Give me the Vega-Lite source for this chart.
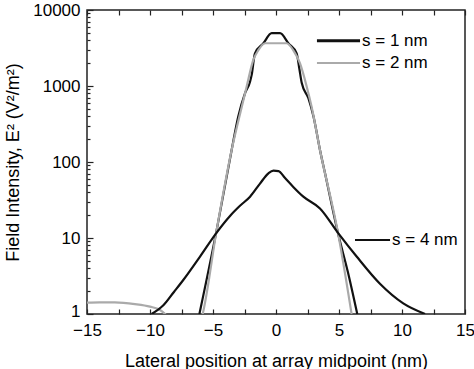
{
  "$schema": "https://vega.github.io/schema/vega-lite/v6.json",
  "width": 378,
  "height": 304,
  "autosize": {"type": "none"},
  "padding": {"left": 87, "top": 10, "right": 9, "bottom": 55},
  "background": "white",
  "config": {
    "view": {"stroke": "#222222", "strokeWidth": 1.5},
    "font": "Liberation Sans",
    "axis": {
      "domain": false,
      "grid": false,
      "tickColor": "#222222",
      "tickWidth": 1.2,
      "labelColor": "#000000",
      "titleColor": "#000000",
      "labelFont": "Liberation Sans",
      "titleFont": "Liberation Sans",
      "labelFontSize": 17,
      "titleFontSize": 18,
      "titleFontWeight": "normal"
    }
  },
  "datasets": {
    "curves": [
      {"series": "s = 1 nm", "x": -6.08, "y": 1},
      {"series": "s = 1 nm", "x": -4.71, "y": 12.7},
      {"series": "s = 1 nm", "x": -3.52, "y": 144},
      {"series": "s = 1 nm", "x": -3.0, "y": 395},
      {"series": "s = 1 nm", "x": -2.46, "y": 800},
      {"series": "s = 1 nm", "x": -2.06, "y": 1140},
      {"series": "s = 1 nm", "x": -1.93, "y": 1400},
      {"series": "s = 1 nm", "x": -1.67, "y": 2690},
      {"series": "s = 1 nm", "x": -1.0, "y": 3650},
      {"series": "s = 1 nm", "x": -0.34, "y": 4950},
      {"series": "s = 1 nm", "x": 0.32, "y": 4950},
      {"series": "s = 1 nm", "x": 0.98, "y": 3650},
      {"series": "s = 1 nm", "x": 1.64, "y": 2690},
      {"series": "s = 1 nm", "x": 1.85, "y": 1700},
      {"series": "s = 1 nm", "x": 2.04, "y": 1100},
      {"series": "s = 1 nm", "x": 2.57, "y": 690},
      {"series": "s = 1 nm", "x": 2.98, "y": 395},
      {"series": "s = 1 nm", "x": 3.49, "y": 144},
      {"series": "s = 1 nm", "x": 3.9, "y": 70},
      {"series": "s = 1 nm", "x": 4.95, "y": 11},
      {"series": "s = 1 nm", "x": 5.7, "y": 3.6},
      {"series": "s = 1 nm", "x": 6.45, "y": 1},

      {"series": "s = 2 nm", "x": -15, "y": 1.41},
      {"series": "s = 2 nm", "x": -14, "y": 1.42},
      {"series": "s = 2 nm", "x": -12.8, "y": 1.42},
      {"series": "s = 2 nm", "x": -11.2, "y": 1.35},
      {"series": "s = 2 nm", "x": -10, "y": 1.25},
      {"series": "s = 2 nm", "x": -9.2, "y": 1.13},
      {"series": "s = 2 nm", "x": -8.8, "y": 1.0},
      {"series": "s = 2 nm", "x": -7.6, "y": 0.5},
      {"series": "s = 2 nm", "x": -6.5, "y": 0.5},
      {"series": "s = 2 nm", "x": -5.82, "y": 1},
      {"series": "s = 2 nm", "x": -4.71, "y": 12.7},
      {"series": "s = 2 nm", "x": -3.52, "y": 144},
      {"series": "s = 2 nm", "x": -2.72, "y": 530},
      {"series": "s = 2 nm", "x": -2.33, "y": 980},
      {"series": "s = 2 nm", "x": -1.8, "y": 2200},
      {"series": "s = 2 nm", "x": -1.4, "y": 2960},
      {"series": "s = 2 nm", "x": -0.87, "y": 3650},
      {"series": "s = 2 nm", "x": 0, "y": 3650},
      {"series": "s = 2 nm", "x": 0.85, "y": 3650},
      {"series": "s = 2 nm", "x": 1.4, "y": 2900},
      {"series": "s = 2 nm", "x": 1.9, "y": 2000},
      {"series": "s = 2 nm", "x": 2.44, "y": 980},
      {"series": "s = 2 nm", "x": 2.83, "y": 530},
      {"series": "s = 2 nm", "x": 3.49, "y": 144},
      {"series": "s = 2 nm", "x": 4.95, "y": 11},
      {"series": "s = 2 nm", "x": 6.0, "y": 1},

      {"series": "s = 4 nm", "x": -9.87, "y": 1.0},
      {"series": "s = 4 nm", "x": -8.94, "y": 1.3},
      {"series": "s = 4 nm", "x": -8.1, "y": 1.95},
      {"series": "s = 4 nm", "x": -7.36, "y": 2.8},
      {"series": "s = 4 nm", "x": -6.03, "y": 5.7},
      {"series": "s = 4 nm", "x": -4.71, "y": 11.8},
      {"series": "s = 4 nm", "x": -3.65, "y": 19.5},
      {"series": "s = 4 nm", "x": -2.86, "y": 26.5},
      {"series": "s = 4 nm", "x": -2.06, "y": 35},
      {"series": "s = 4 nm", "x": -1.27, "y": 52},
      {"series": "s = 4 nm", "x": -0.6, "y": 71},
      {"series": "s = 4 nm", "x": -0.2, "y": 77},
      {"series": "s = 4 nm", "x": 0.2, "y": 76},
      {"series": "s = 4 nm", "x": 0.7, "y": 62},
      {"series": "s = 4 nm", "x": 1.37, "y": 47},
      {"series": "s = 4 nm", "x": 2.17, "y": 35},
      {"series": "s = 4 nm", "x": 3.49, "y": 24.5},
      {"series": "s = 4 nm", "x": 4.95, "y": 11.5},
      {"series": "s = 4 nm", "x": 6.4, "y": 5.7},
      {"series": "s = 4 nm", "x": 8.25, "y": 2.5},
      {"series": "s = 4 nm", "x": 10.1, "y": 1.38},
      {"series": "s = 4 nm", "x": 11.83, "y": 1.0}
    ],
    "labels": [
      {"series": "s = 1 nm", "x": 3.25, "x2": 6.67, "y": 3950},
      {"series": "s = 2 nm", "x": 3.25, "x2": 6.67, "y": 2000},
      {"series": "s = 4 nm", "x": 6.27, "x2": 9.05, "y": 9.4}
    ]
  },
  "layer": [
    {
      "data": {"name": "curves"},
      "mark": {"type": "line", "clip": true, "strokeWidth": 2.2, "interpolate": "monotone"},
      "encoding": {
        "x": {
          "field": "x", "type": "quantitative",
          "scale": {"domain": [-15, 15], "nice": false, "zero": false},
          "axis": {
            "orient": "bottom",
            "values": [-15, -12.5, -10, -7.5, -5, -2.5, 0, 2.5, 5, 7.5, 10, 12.5, 15],
            "labelExpr": "datum.value % 5 === 0 ? datum.label : ''",
            "tickSize": -5,
            "labelPadding": 13,
            "labelFlush": false,
            "title": "Lateral position at array midpoint (nm)",
            "titlePadding": 14
          }
        },
        "y": {
          "field": "y", "type": "quantitative",
          "scale": {"type": "log", "domain": [1, 10000], "nice": false},
          "axis": {
            "values": [1,2,3,4,5,6,7,8,9,10,20,30,40,50,60,70,80,90,100,200,300,400,500,600,700,800,900,1000,2000,3000,4000,5000,6000,7000,8000,9000,10000],
            "labelExpr": "indexof([1,10,100,1000,10000], datum.value) >= 0 ? format(datum.value, 'd') : ''",
            "tickSize": {"condition": {"test": "indexof([1,10,100,1000,10000], datum.value) < 0", "value": -3}, "value": -6},
            "labelOffset": {"condition": {"test": "datum.value === 1", "value": -3}, "value": 0},
            "labelPadding": 13,
            "labelFlush": false,
            "title": "Field Intensity, E² (V²/m²)",
            "titlePadding": 10
          }
        },
        "color": {
          "field": "series", "type": "nominal",
          "scale": {"domain": ["s = 1 nm", "s = 2 nm", "s = 4 nm"], "range": ["#111111", "#aaaaaa", "#111111"]},
          "legend": null
        }
      }
    },
    {
      "data": {"name": "labels"},
      "mark": {"type": "rule"},
      "encoding": {
        "x": {
          "field": "x", "type": "quantitative",
          "axis": {
            "orient": "top",
            "values": [-15, -12.5, -10, -7.5, -5, -2.5, 0, 2.5, 5, 7.5, 10, 12.5, 15],
            "labels": false,
            "tickSize": -5,
            "title": null
          }
        },
        "x2": {"field": "x2"},
        "y": {"field": "y", "type": "quantitative"},
        "color": {"field": "series", "type": "nominal", "legend": null},
        "strokeWidth": {"condition": {"test": "datum.series === 's = 1 nm'", "value": 3}, "value": 2}
      }
    },
    {
      "data": {"name": "labels"},
      "mark": {"type": "text", "align": "left", "baseline": "middle", "fontSize": 17, "dx": 2, "font": "Liberation Sans"},
      "encoding": {
        "x": {"field": "x2", "type": "quantitative", "axis": null},
        "y": {"field": "y", "type": "quantitative"},
        "text": {"field": "series"},
        "color": {"value": "#000000"}
      }
    }
  ],
  "resolve": {"axis": {"x": "independent"}}
}
